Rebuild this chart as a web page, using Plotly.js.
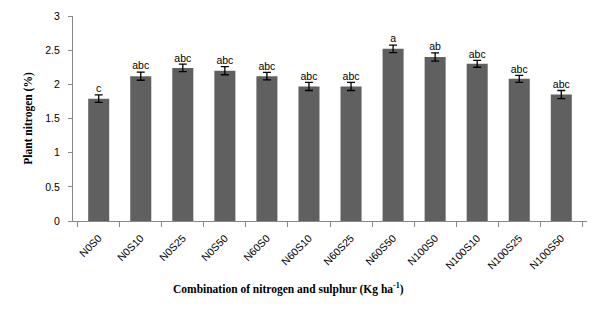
<!DOCTYPE html>
<html><head><meta charset="utf-8">
<script src="https://cdn.plot.ly/plotly-3.0.1.min.js"></script>
<style>body{margin:0;background:#fff}#c{width:598px;height:314px}</style>
</head><body><div id="c"></div>
<script>
const categories = ["N0S0","N0S10","N0S25","N0S50","N60S0","N60S10","N60S25","N60S50","N100S0","N100S10","N100S25","N100S50"];
const values = [1.79, 2.12, 2.24, 2.20, 2.12, 1.97, 1.97, 2.52, 2.40, 2.30, 2.08, 1.85];
const errors = [0.055, 0.06, 0.055, 0.06, 0.055, 0.06, 0.06, 0.055, 0.06, 0.05, 0.05, 0.06];
const letters = ["c","abc","abc","abc","abc","abc","abc","a","ab","abc","abc","abc"];

const bars = {
  type: 'bar', x: categories, y: values, width: 0.5,
  marker: {color: '#606060'},
  error_y: {type: 'data', array: errors, visible: true, color: '#000', thickness: 1.3, width: 4},
  hoverinfo: 'none'
};
const labels = {
  type: 'scatter', mode: 'text', x: categories,
  y: values.map((v, i) => v + errors[i]),
  text: letters, textposition: 'top center',
  textfont: {family: 'Liberation Sans, Arial, sans-serif', size: 10.5, color: '#000'},
  hoverinfo: 'none', cliponaxis: false
};
const layout = {
  width: 598, height: 314,
  margin: {l: 73, r: 11, t: 16, b: 93},
  paper_bgcolor: '#fff', plot_bgcolor: '#fff',
  showlegend: false,
  font: {family: 'Liberation Sans, Arial, sans-serif', size: 10, color: '#000'},
  xaxis: {
    type: 'category', tickangle: -45, showgrid: false, zeroline: false,
    showline: true, linecolor: '#888', linewidth: 1,
    ticks: 'outside', tickson: 'boundaries', ticklen: 5, tickcolor: '#888',
    ticklabelstandoff: 6,
    tickfont: {family: 'Liberation Sans, Arial, sans-serif', size: 10.5}
  },
  yaxis: {
    range: [0, 3], dtick: 0.5, showgrid: false, zeroline: false,
    showline: true, linecolor: '#888', linewidth: 1,
    ticks: 'outside', ticklen: 4, tickcolor: '#888',
    ticklabelstandoff: 6,
    tickfont: {family: 'Liberation Sans, Arial, sans-serif', size: 10.5},
    title: {text: 'Plant nitrogen (%)',
            font: {family: 'Liberation Serif, Times New Roman, serif', size: 11.5, color: '#000', weight: 'bold'},
            standoff: 10}
  },
  annotations: [{
    xref: 'paper', yref: 'paper', x: 0.42, y: -0.327, xanchor: 'center', yanchor: 'middle',
    showarrow: false,
    text: 'Combination of nitrogen and sulphur (Kg ha<sup>-1</sup>)',
    font: {family: 'Liberation Serif, Times New Roman, serif', size: 11.5, color: '#000', weight: 'bold'}
  }]
};
Plotly.newPlot('c', [bars, labels], layout, {staticPlot: true, displayModeBar: false});
</script></body></html>
